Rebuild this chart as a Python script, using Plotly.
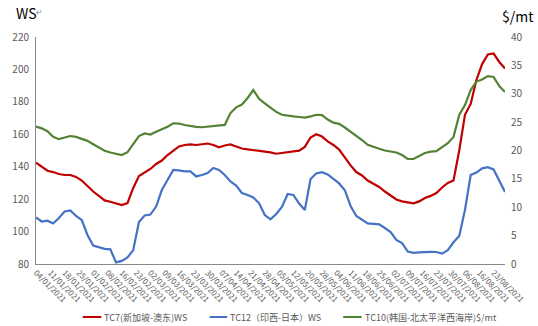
import plotly.graph_objects as go

# Weekly axis labels (one every 5 trading sessions)
week_labels = [
    "04/01/2021", "11/01/2021", "18/01/2021", "25/01/2021", "01/02/2021",
    "08/02/2021", "16/02/2021", "23/02/2021", "02/03/2021", "09/03/2021",
    "16/03/2021", "23/03/2021", "30/03/2021", "07/04/2021", "14/04/2021",
    "21/04/2021", "28/04/2021", "05/05/2021", "12/05/2021", "20/05/2021",
    "28/05/2021", "04/06/2021", "11/06/2021", "18/06/2021", "25/06/2021",
    "02/07/2021", "09/07/2021", "16/07/2021", "23/07/2021", "30/07/2021",
    "06/08/2021", "16/08/2021", "23/08/2021",
]

# Trading-session index of each sample (every second session)
sessions = list(range(0, 165, 2))

series_names = [
    "TC7(新加坡-澳东)WS",
    "TC12（印西-日本）WS",
    "TC10(韩国-北太平洋西海岸)$/mt",
]

tc7_ws = [
    142.5, 139.8, 137.5, 136.7, 135.5, 134.9, 134.9, 133.7, 131.5, 128.1,
    124.7, 122.0, 119.2, 118.4, 117.3, 116.4, 117.6, 126.9, 134.3, 136.7,
    138.6, 141.7, 143.8, 147.2, 150.0, 152.5, 153.4, 153.8, 153.4, 153.7,
    154.3, 153.4, 152.0, 153.1, 153.7, 152.5, 151.2, 150.7, 150.3, 149.9,
    149.4, 148.8, 148.0, 148.5, 149.3, 149.7, 149.9, 152.2, 158.0, 160.0,
    158.6, 155.6, 153.4, 150.6, 145.4, 140.8, 136.7, 134.6, 131.5, 129.5,
    127.5, 124.7, 122.0, 119.8, 118.6, 117.8, 117.4, 118.6, 120.7, 122.0,
    123.8, 127.2, 130.0, 131.5, 150.0, 172.0, 178.7, 193.5, 203.3, 209.2,
    209.8, 204.6, 200.6,
]

tc12_ws = [
    108.7, 106.2, 106.7, 105.0, 108.4, 112.4, 113.0, 109.6, 107.1, 97.9,
    91.4, 90.2, 89.3, 89.0, 81.0, 81.9, 84.0, 88.6, 105.9, 109.9,
    110.5, 115.4, 125.6, 131.8, 138.0, 137.7, 137.1, 137.1, 134.0, 134.9,
    136.1, 139.2, 138.0, 134.9, 130.9, 128.4, 123.8, 122.6, 121.0, 117.6,
    110.2, 107.5, 110.8, 115.2, 123.2, 122.6, 117.3, 113.3, 132.4, 135.8,
    136.6, 135.2, 132.4, 129.7, 125.5, 115.8, 109.6, 107.1, 105.0, 104.7,
    104.4, 102.2, 99.7, 94.8, 92.9, 87.7, 86.9, 87.2, 87.5, 87.5,
    87.4, 86.4, 88.5, 93.4, 97.3, 113.3, 134.9, 136.4, 139.0, 139.7,
    138.3, 131.8, 124.4,
]

tc10_usd = [
    24.2, 23.9, 23.4, 22.4, 22.0, 22.3, 22.55, 22.4, 22.1, 21.7,
    21.1, 20.5, 19.95, 19.65, 19.4, 19.2, 19.7, 21.15, 22.55, 23.0,
    22.8, 23.3, 23.7, 24.2, 24.8, 24.75, 24.5, 24.3, 24.15, 24.1,
    24.2, 24.3, 24.3, 24.5, 26.6, 27.6, 28.1, 29.25, 30.65, 29.1,
    28.3, 27.5, 26.8, 26.3, 26.1, 26.0, 25.9, 25.8, 26.0, 26.3,
    26.25, 25.45, 24.9, 24.7, 24.05, 23.35, 22.5, 21.85, 21.0, 20.6,
    20.3, 20.0, 19.8, 19.65, 19.2, 18.5, 18.5, 19.0, 19.55, 19.8,
    19.9, 20.6, 21.3, 22.4, 26.25, 28.0, 30.65, 32.15, 32.5, 33.1,
    32.95, 31.35, 30.3,
]

colors = ["#C00000", "#4472C4", "#548235"]
font_family = "Noto Sans CJK SC"
label_grey = "#595959"
axis_grey = "#898989"

fig = go.Figure()
fig.add_trace(go.Scatter(x=sessions, y=tc7_ws, mode="lines", name=series_names[0],
                         line=dict(color=colors[0], width=2.2), yaxis="y"))
fig.add_trace(go.Scatter(x=sessions, y=tc12_ws, mode="lines", name=series_names[1],
                         line=dict(color=colors[1], width=2.2), yaxis="y"))
fig.add_trace(go.Scatter(x=sessions, y=tc10_usd, mode="lines", name=series_names[2],
                         line=dict(color=colors[2], width=2.2), yaxis="y2"))

tick_pos = [5 * i for i in range(len(week_labels))]

fig.update_layout(
    width=538, height=326,
    margin=dict(l=32, r=25, t=37, b=62),
    paper_bgcolor="white", plot_bgcolor="white",
    showlegend=False,
    font=dict(family=font_family, color=label_grey, size=10),
    xaxis=dict(
        range=[0, 164], tickmode="array", tickvals=tick_pos, ticktext=week_labels,
        tickangle=45, tickfont=dict(size=8, color=label_grey),
        showgrid=False, zeroline=False, showline=True, linecolor=axis_grey, linewidth=1,
        ticks="",
    ),
    yaxis=dict(
        range=[80, 220], dtick=20, showgrid=False, zeroline=False,
        showline=True, linecolor=axis_grey, linewidth=1, ticks="",
        tickfont=dict(size=10, color=label_grey), ticklabelstandoff=4,
    ),
    yaxis2=dict(
        range=[0, 40], dtick=5, overlaying="y", side="right", showgrid=False,
        zeroline=False, showline=False, ticks="",
        tickfont=dict(size=10, color=label_grey), ticklabelstandoff=5,
    ),
)

# Axis unit titles
fig.add_annotation(text="WS", xref="paper", yref="paper", x=-0.046, y=1.106,
                   xanchor="left", yanchor="middle", showarrow=False,
                   font=dict(family=font_family, size=14, color="#000000"))
fig.add_annotation(text="↵", xref="paper", yref="paper", x=-0.004, y=1.106,
                   xanchor="left", yanchor="middle", showarrow=False,
                   font=dict(family="DejaVu Sans", size=8, color="#7F8FA6"))
fig.add_annotation(text="$/mt", xref="paper", yref="paper", x=0.989, y=1.092,
                   xanchor="left", yanchor="middle", showarrow=False,
                   font=dict(family=font_family, size=14, color="#000000"))

# Legend row beneath the axis
legend_slots = [(0.0998, 0.1393), (0.3701, 0.4075), (0.6549, 0.6944)]
legend_y = -0.2335
for (x0, x1), name, col in zip(legend_slots, series_names, colors):
    fig.add_shape(type="line", xref="paper", yref="paper", x0=x0, x1=x1,
                  y0=legend_y, y1=legend_y, line=dict(color=col, width=2))
    fig.add_annotation(text=name, xref="paper", yref="paper", x=x1 + 0.002, y=legend_y,
                       xanchor="left", yanchor="middle", showarrow=False,
                       font=dict(family=font_family, size=9, color=label_grey))

fig.write_html("out.html")
